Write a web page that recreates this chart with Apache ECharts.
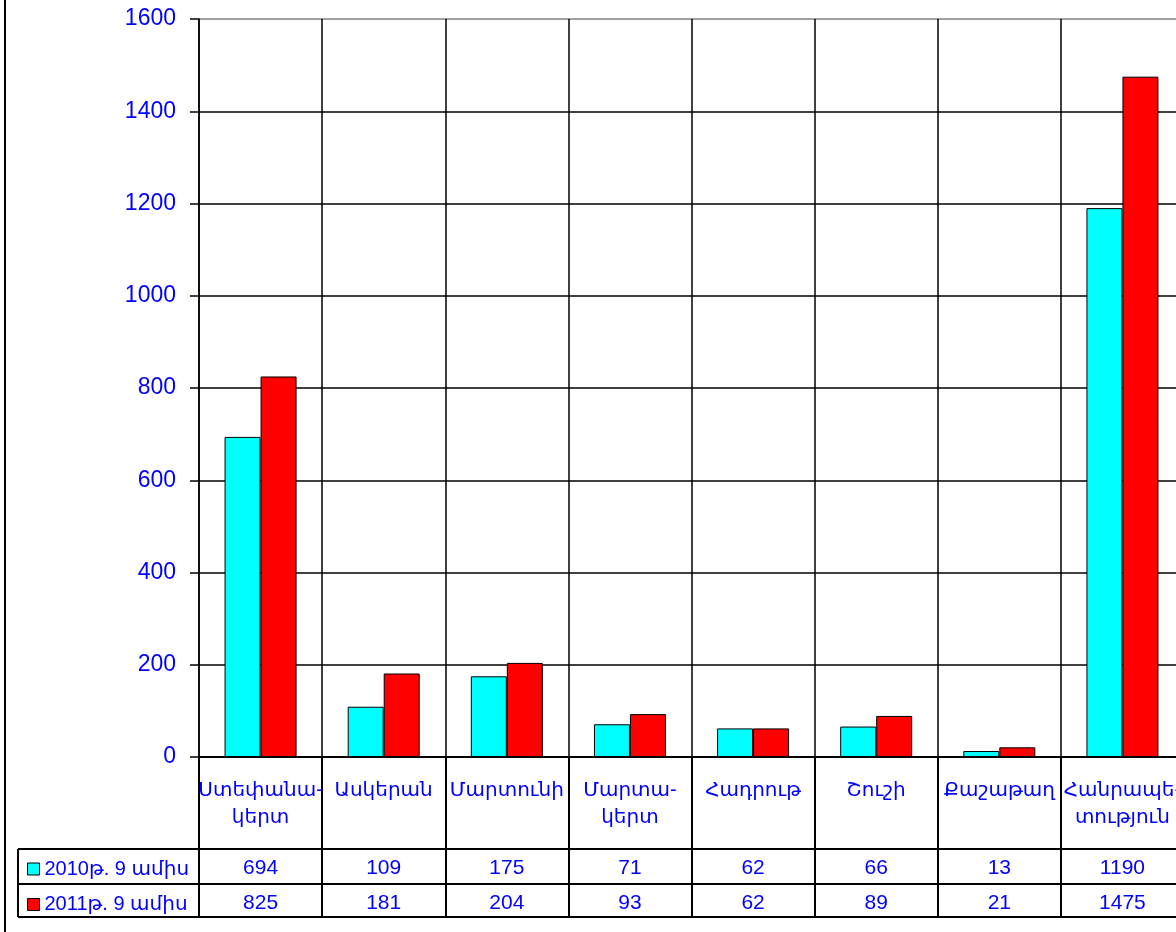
<!DOCTYPE html>
<html>
<head>
<meta charset="utf-8">
<script src="https://cdn.jsdelivr.net/npm/echarts@6/dist/echarts.min.js"></script>
<style>
html,body{margin:0;padding:0;background:#fff;}
#c{width:1176px;height:932px;}
</style>
</head>
<body>
<div id="c"></div>
<script>
const categories = ['Ստեփանա-\nկերտ', 'Ասկերան', 'Մարտունի', 'Մարտա-\nկերտ', 'Հադրութ', 'Շուշի', 'Քաշաթաղ', 'Հանրապե-\nտություն'];
const seriesNames = ['2010թ. 9 ամիս', '2011թ. 9 ամիս'];
const values2010 = [694, 109, 175, 71, 62, 66, 13, 1190];
const values2011 = [825, 181, 204, 93, 62, 89, 21, 1475];
const yTicks = [0, 200, 400, 600, 800, 1000, 1200, 1400, 1600];

const FONT = 'Liberation Sans, Arial, DejaVu Sans, sans-serif';
const BLUE = '#0000ff';
const GL = 199, GT = 19, GW = 985, GH = 738;
const GB = GT + GH;
const TABLE_LEFT = 18;
const ROW1_TOP = 849, ROW2_TOP = 884, TABLE_BOTTOM = 917;
const TABLE_RIGHT = GL + GW;

const chart = echarts.init(document.getElementById('c'));

const splitColors = yTicks.map((t, i) => i === yTicks.length - 1 ? '#808080' : '#000');

function hline(y) {
  return { type: 'line', shape: { x1: TABLE_LEFT, y1: y, x2: TABLE_RIGHT, y2: y }, style: { stroke: '#000', lineWidth: 2 }, z: 10 };
}

chart.setOption({
  animation: false,
  textStyle: { fontFamily: FONT },
  grid: { left: GL, top: GT, width: GW, height: GH, containLabel: false, outerBoundsMode: 'none' },
  legend: {
    orient: 'vertical',
    left: 22,
    top: 854,
    itemWidth: 12,
    itemHeight: 12,
    itemGap: 15.5,
    selectedMode: false,
    icon: 'rect',
    itemStyle: { borderColor: '#000', borderWidth: 1 },
    textStyle: { color: BLUE, fontSize: 20, lineHeight: 20, fontFamily: FONT },
    data: seriesNames
  },
  xAxis: [
    {
      type: 'category',
      data: categories,
      position: 'bottom',
      axisLine: { show: true, lineStyle: { color: '#000', width: 2 } },
      axisTick: { show: true, alignWithLabel: false, interval: 0, length: TABLE_BOTTOM - GB, lineStyle: { color: '#000', width: 2 } },
      axisLabel: { interval: 0, margin: 20, color: BLUE, fontSize: 20, lineHeight: 27, fontFamily: FONT },
      splitLine: { show: true, interval: 0, lineStyle: { color: '#000', width: 1.5 } }
    },
    {
      type: 'category',
      data: categories,
      position: 'bottom',
      offset: 111,
      axisLine: { show: false },
      axisTick: { show: false },
      splitLine: { show: false },
      axisLabel: { interval: 0, margin: 0, verticalAlign: 'middle', color: BLUE, fontSize: 21, fontFamily: FONT,
        formatter: (v, i) => String(values2010[i]) }
    },
    {
      type: 'category',
      data: categories,
      position: 'bottom',
      offset: 146.5,
      axisLine: { show: false },
      axisTick: { show: false },
      splitLine: { show: false },
      axisLabel: { interval: 0, margin: 0, verticalAlign: 'middle', color: BLUE, fontSize: 21, fontFamily: FONT,
        formatter: (v, i) => String(values2011[i]) }
    }
  ],
  yAxis: {
    type: 'value',
    min: yTicks[0],
    max: yTicks[yTicks.length - 1],
    interval: yTicks[1] - yTicks[0],
    axisLine: { show: true, lineStyle: { color: '#000', width: 1.5 } },
    axisTick: { show: true, inside: false, length: 9, lineStyle: { color: '#000', width: 1.5 } },
    axisLabel: { margin: 23, color: BLUE, fontSize: 23, fontFamily: FONT, formatter: v => String(v) },
    splitLine: { show: true, lineStyle: { color: splitColors, width: 1.5 } }
  },
  series: [
    {
      name: seriesNames[0],
      type: 'bar',
      data: values2010,
      barWidth: 36,
      barGap: '0%',
      itemStyle: { color: '#00ffff', borderColor: '#000', borderWidth: 1 }
    },
    {
      name: seriesNames[1],
      type: 'bar',
      data: values2011,
      barWidth: 36,
      barGap: '0%',
      itemStyle: { color: '#ff0000', borderColor: '#000', borderWidth: 1 }
    }
  ],
  graphic: [
    hline(ROW1_TOP),
    hline(ROW2_TOP),
    hline(TABLE_BOTTOM),
    { type: 'line', shape: { x1: TABLE_LEFT, y1: ROW1_TOP, x2: TABLE_LEFT, y2: TABLE_BOTTOM }, style: { stroke: '#000', lineWidth: 2 }, z: 10 },
    { type: 'line', shape: { x1: 5, y1: 0, x2: 5, y2: 932 }, style: { stroke: '#000', lineWidth: 2 }, z: 10 }
  ]
});
</script>
</body>
</html>
